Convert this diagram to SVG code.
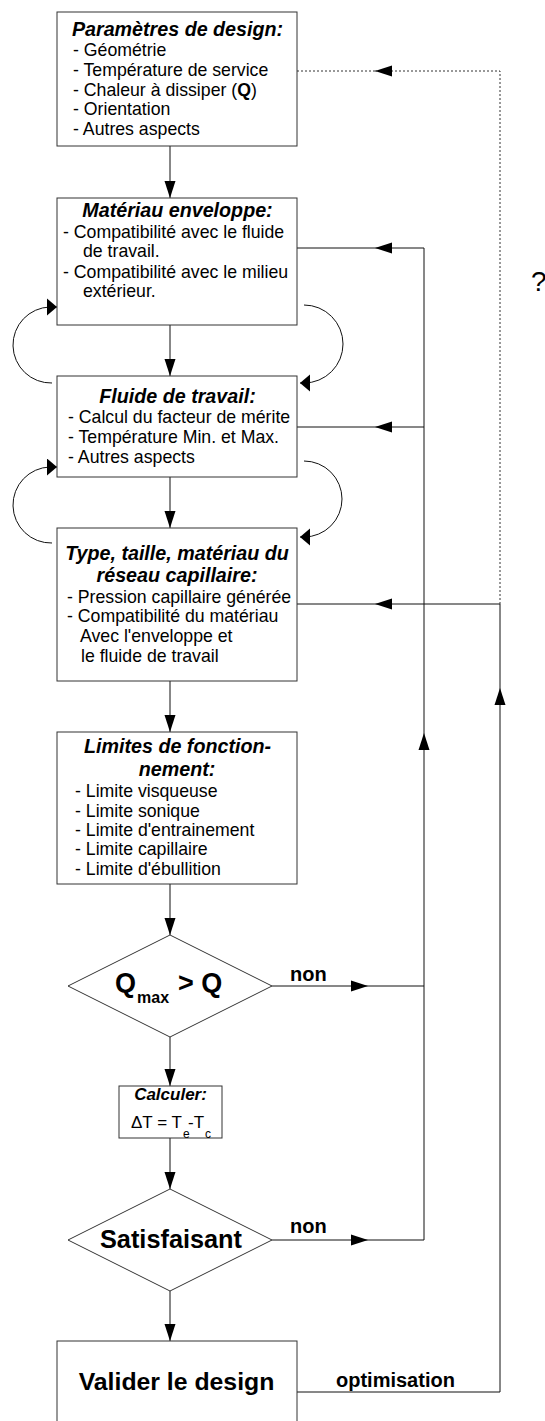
<svg xmlns="http://www.w3.org/2000/svg" width="545" height="1421" viewBox="0 0 545 1421">
<style>
text{font-family:"Liberation Sans",Arial,sans-serif;fill:#000}
.box{fill:#fff;stroke:#333;stroke-width:1}
.t{font-size:19.7px;font-weight:bold;font-style:italic;text-anchor:middle}
.i{font-size:17.7px}
.b{font-weight:bold}
.ln{fill:none;stroke:#111;stroke-width:1}
.dot{fill:none;stroke:#333;stroke-width:1;stroke-dasharray:2,2}
.arr{marker-end:url(#ah)}
.carr{marker-end:url(#ahs)}
.lbl{font-size:20px;font-weight:bold}
</style>
<defs>
<marker id="ah" markerUnits="userSpaceOnUse" markerWidth="17" markerHeight="12" refX="17" refY="6" orient="auto">
<path d="M0,0.5 L17,6 L0,11.5 Z" fill="#000"/>
</marker>
<marker id="ahs" markerUnits="userSpaceOnUse" markerWidth="11" markerHeight="18" refX="10" refY="8.5" orient="auto">
<path d="M0,0 L10,8.5 L0,17 Z" fill="#000"/>
</marker>
</defs>

<g id="connectors">
<line class="ln arr" x1="170" y1="146" x2="170" y2="198"/>
<line class="ln arr" x1="170" y1="325" x2="170" y2="376"/>
<line class="ln arr" x1="170" y1="477" x2="170" y2="528"/>
<line class="ln arr" x1="170" y1="681" x2="170" y2="732"/>
<line class="ln arr" x1="170" y1="884" x2="170" y2="935"/>
<line class="ln arr" x1="170" y1="1037" x2="170" y2="1086"/>
<line class="ln arr" x1="170" y1="1138" x2="170" y2="1189"/>
<line class="ln arr" x1="170" y1="1291" x2="170" y2="1341"/>
<!-- curved loops -->
<path class="ln carr" d="M52,383 A38,38 0 0 1 50,307 L57,307"/>
<path class="ln carr" d="M304,305 A39,39 0 0 1 304,383 L300,383"/>
<path class="ln carr" d="M52,543 A38,38 0 0 1 50,467 L57,467"/>
<path class="ln carr" d="M304,461 A38,38 0 0 1 304,537 L300,537"/>
<!-- right feedback x=424 -->
<line class="ln arr" x1="424" y1="1240" x2="424" y2="733"/>
<line class="ln" x1="424" y1="733" x2="424" y2="248"/>
<line class="ln arr" x1="424" y1="248" x2="375" y2="248"/>
<line class="ln" x1="375" y1="248" x2="297" y2="248"/>
<line class="ln arr" x1="424" y1="427" x2="375" y2="427"/>
<line class="ln" x1="375" y1="427" x2="297" y2="427"/>
<!-- non branches -->
<line class="ln arr" x1="272" y1="986" x2="368" y2="986"/>
<line class="ln" x1="368" y1="986" x2="424" y2="986"/>
<line class="ln arr" x1="272" y1="1240" x2="368" y2="1240"/>
<line class="ln" x1="368" y1="1240" x2="424" y2="1240"/>
<!-- optimisation loop x=500 -->
<polyline class="ln arr" points="297,1392 500,1392 500,688"/>
<line class="ln" x1="500" y1="688" x2="500" y2="604"/>
<line class="ln arr" x1="500" y1="604" x2="375" y2="604"/>
<line class="ln" x1="375" y1="604" x2="297" y2="604"/>
<!-- dotted loop -->
<polyline class="dot arr" points="500,604 500,71 375,71"/>
<line class="dot" x1="375" y1="71" x2="297" y2="71"/>
<text class="lbl" x="290" y="981">non</text>
<text class="lbl" x="290" y="1233">non</text>
<text class="lbl" x="336" y="1387">optimisation</text>
</g>

<g id="n1">
<rect class="box" x="57" y="12" width="240" height="134"/>
<text class="t" x="177.5" y="36">Paramètres de design:</text>
<text class="i" x="73" y="56">- Géométrie</text>
<text class="i" x="73" y="76">- Température de service</text>
<text class="i" x="73" y="95.5">- Chaleur à dissiper (<tspan class="b">Q</tspan>)</text>
<text class="i" x="73" y="115">- Orientation</text>
<text class="i" x="73" y="135">- Autres aspects</text>
</g>

<g id="n2">
<rect class="box" x="57" y="198" width="240" height="127"/>
<text class="t" x="177.5" y="217">Matériau enveloppe:</text>
<text class="i" x="63" y="238">- Compatibilité avec le fluide</text>
<text class="i" x="83" y="257">de travail.</text>
<text class="i" x="63" y="278">- Compatibilité avec le milieu</text>
<text class="i" x="83" y="297">extérieur.</text>
</g>

<g id="n3">
<rect class="box" x="57" y="376" width="240" height="101"/>
<text class="t" x="177.5" y="403">Fluide de travail:</text>
<text class="i" x="68" y="423">- Calcul du facteur de mérite</text>
<text class="i" x="68" y="443">- Température Min. et Max.</text>
<text class="i" x="68" y="463">- Autres aspects</text>
</g>

<g id="n4">
<rect class="box" x="57" y="528" width="240" height="153"/>
<text class="t" x="177" y="560">Type, taille, matériau du</text>
<text class="t" x="177" y="582">réseau capillaire:</text>
<text class="i" x="67" y="603">- Pression capillaire générée</text>
<text class="i" x="67" y="622">- Compatibilité du matériau</text>
<text class="i" x="80" y="642">Avec l'enveloppe et</text>
<text class="i" x="81" y="662">le fluide de travail</text>
</g>

<g id="n5">
<rect class="box" x="57" y="732" width="240" height="152"/>
<text class="t" x="177.5" y="753">Limites de fonction-</text>
<text class="t" x="177" y="776">nement:</text>
<text class="i" x="75" y="797">- Limite visqueuse</text>
<text class="i" x="75" y="817">- Limite sonique</text>
<text class="i" x="75" y="836">- Limite d'entrainement</text>
<text class="i" x="75" y="855">- Limite capillaire</text>
<text class="i" x="75" y="875">- Limite d'ébullition</text>
</g>

<g id="d1">
<polygon class="box" points="170,935 272,986 170,1037 68,986"/>
<text class="b" font-size="27" x="115" y="992">Q<tspan font-size="16" x="137" y="1003">max</tspan><tspan x="178" y="992">&gt; Q</tspan></text>
</g>

<g id="n6">
<rect class="box" x="119" y="1086" width="103" height="52"/>
<text class="t" font-size="17px" style="font-size:17px" x="170.5" y="1100">Calculer:</text>
<text font-size="17" x="131" y="1128">ΔT = T<tspan font-size="12" x="183" y="1138">e</tspan><tspan x="188" y="1128">-T</tspan><tspan font-size="12" x="205" y="1138">c</tspan></text>
</g>

<g id="d2">
<polygon class="box" points="170,1189 272,1240 170,1291 68,1240"/>
<text class="b" font-size="25.3" text-anchor="middle" x="171" y="1248">Satisfaisant</text>
</g>

<g id="n7">
<rect class="box" x="57" y="1341" width="240" height="100"/>
<text class="b" font-size="24.8" text-anchor="middle" x="176.5" y="1390">Valider le design</text>
</g>

<text x="531" y="291" font-size="28">?</text>
</svg>
